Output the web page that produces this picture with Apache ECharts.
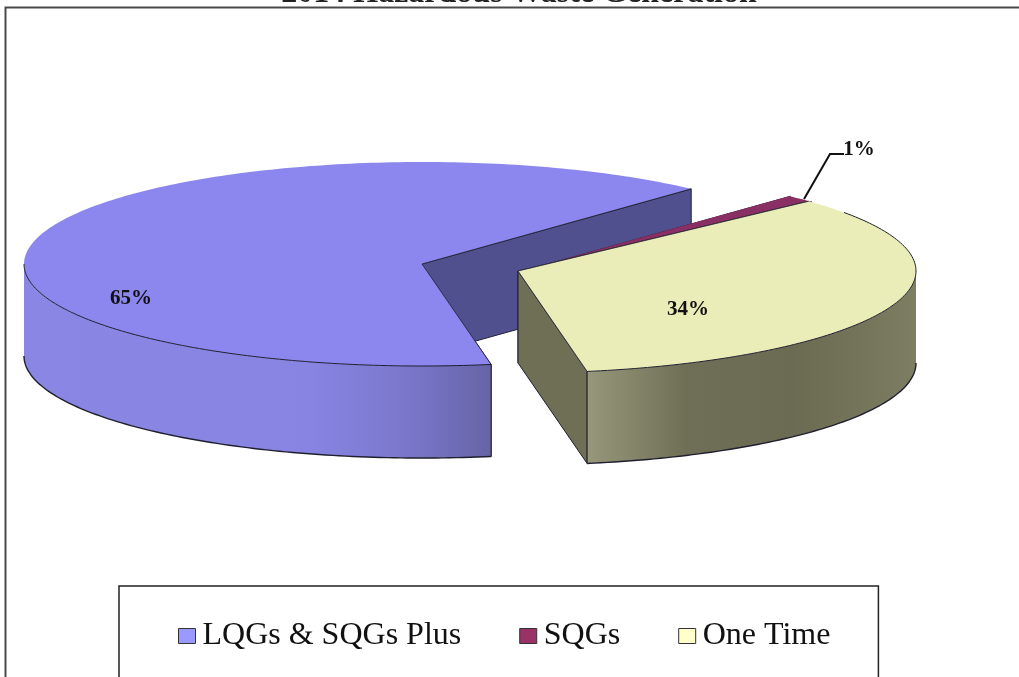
<!DOCTYPE html>
<html><head><meta charset="utf-8">
<style>html,body{margin:0;padding:0;background:#fff}#c{width:1019px;height:677px}</style>
<script src="https://cdn.jsdelivr.net/npm/echarts@6/dist/echarts.min.js"></script>
</head><body><div id="c"></div>
<script>
const titleText = '2014 Hazardous Waste Generation';
const categories = ['LQGs & SQGs Plus', 'SQGs', 'One Time'];
const values = [64.6, 1.2, 34.2];
const legendColors = ['#9999ff', '#993366', '#ffffcc'];
const topColors = ['#8c87ee', '#8a2f63', '#ebedb9'];
const cutColors = ['#50508f', '#6a2450', '#6f6f56'];
const SERIF = '"Liberation Serif","Times New Roman",serif';

// projection of the tilted disc
const RX = 398, RY = 102, DEPTH = 92, START_T = -80;
const centers = [[422, 264], [521, 271.5], [518, 271]];
const labelAt = [[131, 299], [859, 150], [688, 310]];
const rimExtra = [0, 0, 35];
const rad = d => d * Math.PI / 180;
const total = values.reduce((a, b) => a + b, 0);
const pt = (c, t, dy = 0) => [c[0] + RX * Math.cos(rad(t)), c[1] - RY * Math.sin(rad(t)) + dy];
const arc = (c, from, to, dy = 0) => {
  const n = Math.max(2, Math.ceil(Math.abs(to - from))), out = [];
  for (let i = 0; i <= n; i++) out.push(pt(c, from + (to - from) * i / n, dy));
  return out;
};
const wallFills = [
  [[0, '#8a87e4'], [0.62, '#8784e2'], [0.82, '#7a77cb'], [1, '#6664a6']],
  [[0, '#6a2450'], [1, '#6a2450']],
  [[0, '#97987b'], [0.08, '#8c8d70'], [0.3, '#6f6f57'], [0.62, '#6b6b53'], [0.85, '#75755b'], [1, '#7e7e63']]
];
function sweep(i) {
  let acc = 0;
  for (let k = 0; k < i; k++) acc += values[k];
  let a0 = START_T - acc / total * 360, a1 = START_T - (acc + values[i]) / total * 360;
  if (a1 < -360) { a0 += 360; a1 += 360; }
  return [a0, a1];
}
function slice(i) {
  return function () {
    const c = centers[i];
    const [a0, a1] = sweep(i);
    const kids = [];
    const line = '#1f1f30';
    const quad = t => [c, pt(c, t), pt(c, t, DEPTH), [c[0], c[1] + DEPTH]];
    [a0, a1].forEach(t => kids.push({ type: 'polygon', shape: { points: quad(t) },
      style: { fill: cutColors[i], stroke: line, lineWidth: 1 } }));
    // the visible outer wall is the part of the rim on the front half of the disc
    const lo = Math.max(a1, -180), hi = Math.min(a0, 0);
    if (hi > lo) {
      const pts = arc(c, lo, hi).concat(arc(c, hi, lo, DEPTH));
      kids.push({ type: 'polygon', shape: { points: pts },
        style: { fill: new echarts.graphic.LinearGradient(0, 0, 1, 0,
          wallFills[i].map(s => ({ offset: s[0], color: s[1] }))), stroke: null } });
      kids.push({ type: 'polyline', shape: { points: arc(c, lo, hi, DEPTH) },
        style: { fill: null, stroke: line, lineWidth: 1.4 } });
      const edge = i === 0 ? hi : lo;
      kids.push({ type: 'polyline', shape: { points: [pt(c, edge), pt(c, edge, DEPTH)] },
        style: { fill: null, stroke: line, lineWidth: 1 } });
    }
    const top = [c].concat(arc(c, a0, a1));
    kids.push({ type: 'polygon', shape: { points: top }, style: { fill: topColors[i], stroke: null } });
    if (hi > lo) kids.push({ type: 'polyline', shape: { points: arc(c, lo, hi + rimExtra[i]) },
      style: { fill: null, stroke: line, lineWidth: 1 } });
    kids.push({ type: 'polyline', shape: { points: [pt(c, a0), c, pt(c, a1)] },
      style: { fill: null, stroke: i === 1 ? topColors[1] : line, lineWidth: 0.8 } });
    if (i === 1) {
      const mid = pt(c, (a0 + a1) / 2);
      kids.push({ type: 'polyline', shape: { points: [[mid[0] + 3, mid[1]], [830, 154], [844, 154]] },
        style: { fill: null, stroke: '#111', lineWidth: 2 } });
    }
    kids.push({ type: 'text', x: labelAt[i][0], y: labelAt[i][1], style: {
      text: Math.round(values[i]) + '%', font: 'bold 21px ' + SERIF, fill: '#111',
      align: 'center', verticalAlign: 'middle' } });
    return { type: 'group', children: kids };
  };
}

const chart = echarts.init(document.getElementById('c'), null, { renderer: 'canvas' });
chart.setOption({
  animation: false,
  backgroundColor: '#ffffff',
  legend: {
    left: 119, top: 586, orient: 'horizontal',
    padding: [34, 48, 70, 59], itemGap: 58, itemWidth: 17, itemHeight: 15,
    borderColor: '#222', borderWidth: 1.5, backgroundColor: '#fff',
    textStyle: { fontFamily: SERIF, fontSize: 32, color: '#111', padding: [0, 0, 0, 2] },
    data: categories.map((n, i) => ({ name: n, icon: 'rect',
      itemStyle: { color: legendColors[i], borderColor: '#333', borderWidth: 1 } }))
  },
  graphic: [
    { type: 'polyline', shape: { points: [[5.5, 677], [5.5, 7.5], [1019, 7.5]] }, silent: true,
      style: { fill: null, stroke: '#4a4a4a', lineWidth: 2 } },
    { type: 'text', x: 519, y: 9.5, silent: true, style: { text: titleText,
      font: 'bold 32px ' + SERIF, fill: '#222', align: 'center', verticalAlign: 'bottom' } }
  ],
  series: categories.map((n, i) => ({
    type: 'custom', name: n, coordinateSystem: 'none', silent: true,
    itemStyle: { color: legendColors[i] },
    data: [values[i]], renderItem: slice(i)
  }))
});
</script></body></html>
